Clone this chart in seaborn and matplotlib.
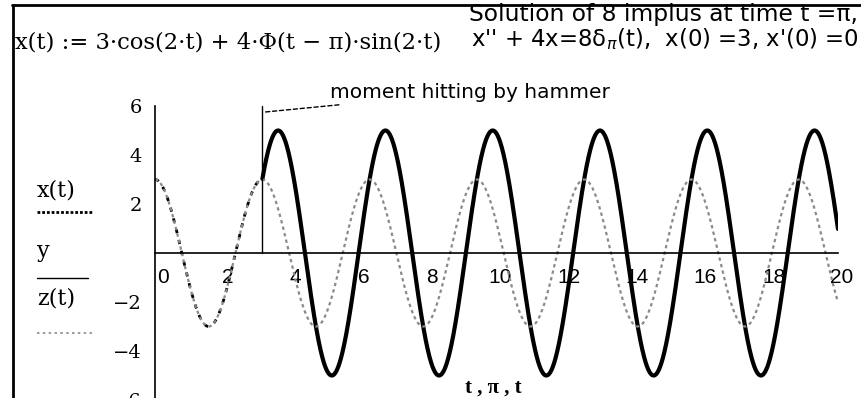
import numpy as np
import pandas as pd
import matplotlib
matplotlib.use("Agg")
import matplotlib.pyplot as plt
from matplotlib.lines import Line2D
from matplotlib.transforms import ScaledTranslation
import seaborn as sns

# Model: x'' + 4x = 8 delta_pi(t), x(0) = 3, x'(0) = 0
amp_free = 3.0        # 3*cos(2t)
amp_kick = 4.0        # 4*Phi(t - pi)*sin(2t)
omega = 2.0
t_hit = np.pi
t_range = (0.0, 20.0)
hammer_y = [0.0, 6.0]           # vertical marker "y" plotted against pi

x_ticks = [0, 2, 4, 6, 8, 10, 12, 14, 16, 18, 20]
x_tick_labels = ["0", "2", "4", "6", "8", "10", "12", "14", "16", "18", "20"]
y_ticks = [-6, -4, -2, 2, 4, 6]
y_tick_labels = ["\u22126", "\u22124", "\u22122", "2", "4", "6"]

t = np.linspace(t_range[0], t_range[1], 4001)
z = amp_free * np.cos(omega * t)
x = amp_free * np.cos(omega * t) + amp_kick * np.heaviside(t - t_hit, 1.0) * np.sin(omega * t)
df = pd.DataFrame({"t": t, "x": x, "z": z})
before = df[df.t <= t_hit]
after = df[df.t >= t_hit]

sns.set_style("white")
plt.rcParams["font.family"] = ["DejaVu Sans"]
plt.rcParams.update({"text.color": "black", "xtick.color": "black",
                     "ytick.color": "black", "axes.labelcolor": "black"})

SERIF = ["DejaVu Serif"]
SANS = ["DejaVu Sans"]

W, H = 862, 398
fig = plt.figure(figsize=(W / 100, H / 100), dpi=100)
fig.patch.set_facecolor("white")

def fx(px):
    return px / W

def fy(py):
    return 1 - py / H

ax = fig.add_axes([fx(155), fy(400), (838 - 155) / W, (400 - 106) / H])
ax.set_facecolor("white")
ax.set_xlim(*t_range)
ax.set_ylim(-6, 6)

# crossed axes through the origin
for side in ["top", "right"]:
    ax.spines[side].set_visible(False)
ax.spines["left"].set_position(("data", 0))
ax.spines["bottom"].set_position(("data", 0))
for side in ["left", "bottom"]:
    ax.spines[side].set_color("black")
    ax.spines[side].set_linewidth(1.2)

# curves
sns.lineplot(data=after, x="t", y="x", ax=ax, color="black", linewidth=3.0,
             estimator=None, sort=False, legend=False)
sns.lineplot(data=before, x="t", y="x", ax=ax, color="black", linewidth=2.0,
             linestyle=(0, (1.5, 2.5)), estimator=None, sort=False, legend=False)
sns.lineplot(data=df, x="t", y="z", ax=ax, color="#8a8a8a", linewidth=1.6,
             linestyle=(0, (1.5, 1.5)), estimator=None, sort=False, legend=False)
ax.plot([t_hit, t_hit], hammer_y, color="black", linewidth=1.0)

ax.set_xlabel("")
ax.set_ylabel("")
ax.set_xticks(x_ticks)
ax.set_xticklabels(x_tick_labels, fontsize=15, family=["Liberation Sans"], color="black")
ax.set_yticks(y_ticks)
ax.set_yticklabels(y_tick_labels, fontsize=14, family=SERIF, color="black")
ax.tick_params(axis="both", direction="inout", length=9, width=1.2, color="black")
ax.tick_params(axis="x", pad=6)
ax.tick_params(axis="y", pad=5)
for lab in ax.get_xticklabels():
    dx = 8 if lab.get_text() == "0" else 4
    lab.set_transform(lab.get_transform() + ScaledTranslation(dx / 100, 0, fig.dpi_scale_trans))

# annotation for the impulse
ax.annotate("moment hitting by hammer", xy=(t_hit + 0.05, 5.75), xytext=(5.12, 6.57),
            ha="left", va="center", fontsize=14.5, family=SANS, color="black",
            annotation_clip=False,
            arrowprops=dict(arrowstyle="-", linestyle=(0, (3, 2)), color="black",
                            linewidth=1.0, shrinkA=0, shrinkB=0))

fig.text(fx(493), fy(393), "t , \u03c0 , t", fontsize=15,
         family=["Liberation Serif"], fontweight="bold", ha="center", va="baseline")

# frame lines of the worksheet
fig.add_artist(Line2D([fx(13), fx(13)], [fy(5), fy(H + 5)], color="black", linewidth=2))
fig.add_artist(Line2D([fx(12), fx(W + 5)], [fy(5), fy(5)], color="black", linewidth=2))

# worksheet definitions
fig.text(fx(15), fy(49), "x(t) := 3\u00b7cos(2\u00b7t) + 4\u00b7\u03a6(t \u2212 \u03c0)\u00b7sin(2\u00b7t)",
         fontsize=16.3, family=SERIF, ha="left", va="baseline")
fig.text(fx(469), fy(21), "Solution of 8 implus at time t =\u03c0,",
         fontsize=16.8, family=SANS, ha="left", va="baseline")
fig.text(fx(471), fy(46), "x'' + 4x=8\u03b4$_{\\pi}$(t),  x(0) =3, x'(0) =0",
         fontsize=16.4, family=SANS, ha="left", va="baseline")

# legend keys
fig.text(fx(37), fy(196), "x(t)", fontsize=16, family=SERIF, ha="left", va="baseline")
fig.add_artist(Line2D([fx(37), fx(92)], [fy(212), fy(212)], color="black", linewidth=2.0,
                      linestyle=(0, (1, 0.7))))
fig.text(fx(37), fy(257), "y", fontsize=16, family=SERIF, ha="left", va="baseline")
fig.add_artist(Line2D([fx(37), fx(88)], [fy(278), fy(278)], color="black", linewidth=1.0))
fig.text(fx(37), fy(305), "z(t)", fontsize=16, family=SERIF, ha="left", va="baseline")
fig.add_artist(Line2D([fx(37), fx(92)], [fy(333), fy(333)], color="#8a8a8a", linewidth=1.2,
                      linestyle=(0, (1.5, 2))))

fig.savefig("out.png", dpi=100, facecolor="white")
